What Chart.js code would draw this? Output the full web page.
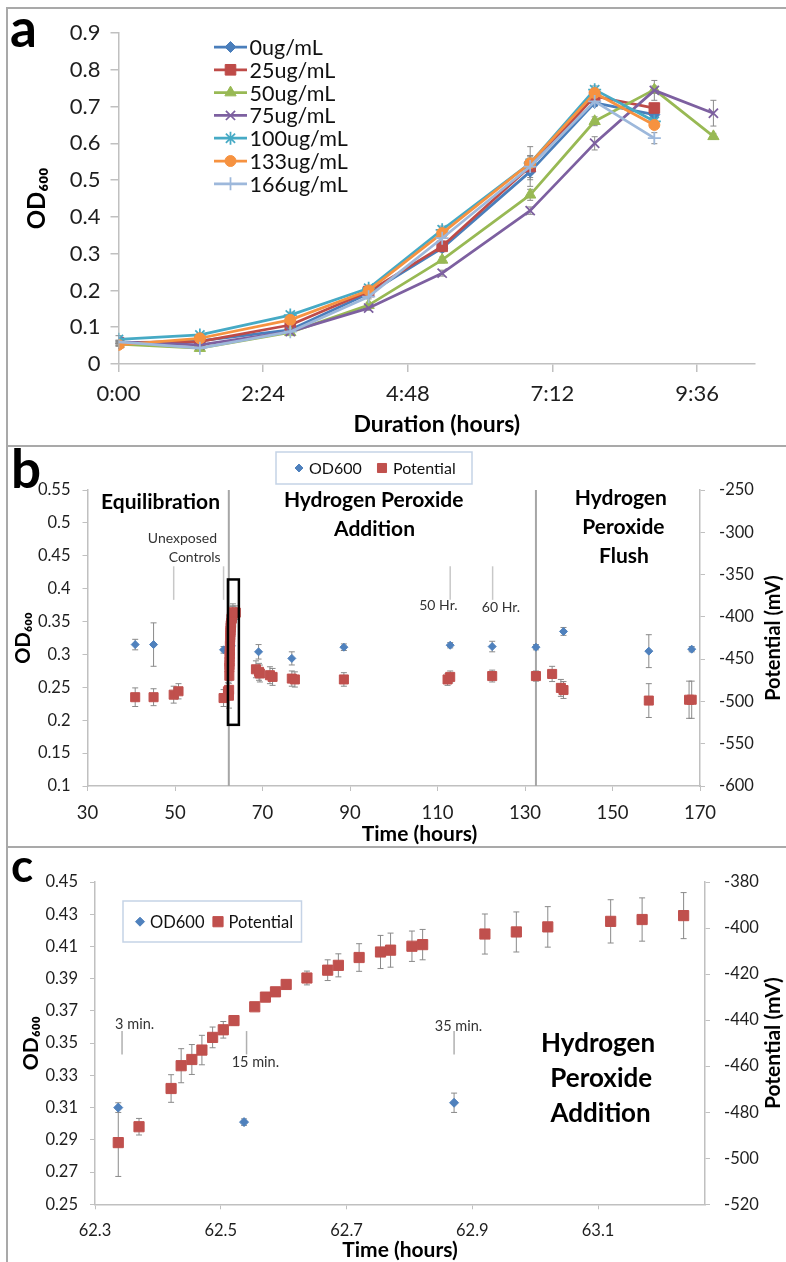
<!DOCTYPE html>
<html>
<head>
<meta charset="utf-8">
<script src="https://cdn.jsdelivr.net/npm/chart.js@4.4.1/dist/chart.umd.min.js"></script>
<style>
  html, body { margin: 0; padding: 0; background: #fff; overflow: hidden; }
  body { width: 786px; height: 1262px; position: relative; }
  .panel { position: absolute; left: 6px; width: 820px; border-top: 2px solid #a9a9a9; border-left: 2px solid #a9a9a9; overflow: hidden; }
  #panel-a { top: 7px; height: 436px; }
  #panel-b { top: 445px; height: 399px; }
  #panel-c { top: 846px; height: 420px; }
  canvas { display: block; }
</style>
</head>
<body>
<div class="panel" id="panel-a"><canvas id="chart-a" width="800" height="436"></canvas></div>
<div class="panel" id="panel-b"><canvas id="chart-b" width="800" height="399"></canvas></div>
<div class="panel" id="panel-c"><canvas id="chart-c" width="800" height="414"></canvas></div>
<script>
// ---------- panel a: growth curves ----------
const durationHours = [0, 1.35, 2.85, 4.15, 5.37, 6.83, 7.9, 8.89, 9.87];
const durationTicks = [0, 2.4, 4.8, 7.2, 9.6];
const concLabels = ['0ug/mL', '25ug/mL', '50ug/mL', '75ug/mL', '100ug/mL', '133ug/mL', '166ug/mL'];
const od0 = [0.056, 0.063, 0.093, 0.192, 0.315, 0.523, 0.71, 0.678];
const od25 = [0.058, 0.061, 0.106, 0.197, 0.32, 0.537, 0.728, 0.696];
const od50 = [0.054, 0.043, 0.086, 0.16, 0.283, 0.46, 0.66, 0.746, 0.619];
const od75 = [0.06, 0.052, 0.088, 0.152, 0.247, 0.417, 0.6, 0.744, 0.682];
const od100 = [0.067, 0.079, 0.133, 0.206, 0.365, 0.546, 0.746, 0.66];
const od133 = [0.052, 0.07, 0.12, 0.2, 0.356, 0.546, 0.737, 0.65];
const od166 = [0.06, 0.043, 0.088, 0.183, 0.342, 0.537, 0.714, 0.614];
const err0 = [0.005, 0.004, 0.006, 0.008, 0.01, 0.04, 0.01, 0.012];
const err25 = [0.004, 0.004, 0.005, 0.006, 0.008, 0.02, 0.01, 0.01];
const err50 = [0.004, 0.004, 0.005, 0.006, 0.008, 0.015, 0.012, 0.01, 0.008];
const err75 = [0.005, 0.004, 0.005, 0.006, 0.008, 0.01, 0.018, 0.027, 0.035];
const err100 = [0.01, 0.004, 0.008, 0.008, 0.01, 0.045, 0.01, 0.01];
const err133 = [0.004, 0.004, 0.005, 0.006, 0.008, 0.02, 0.01, 0.01];
const err166 = [0.004, 0.004, 0.005, 0.006, 0.008, 0.03, 0.01, 0.015];

// ---------- panel b: whole run ----------
const odTimeEquil = [40.9, 45.1, 61.1];
const odValEquil = [0.315, 0.315, 0.307];
const odErrEquil = [0.008, 0.033, 0.005];
const odTimeLate = [69.1, 76.7, 88.6, 112.9, 122.5, 132.5, 138.8, 158.3, 168.1];
const odValLate = [0.304, 0.294, 0.311, 0.314, 0.312, 0.311, 0.335, 0.305, 0.308];
const odErrLate = [0.011, 0.01, 0.005, 0.004, 0.008, 0.004, 0.006, 0.025, 0.004];
const potTimeEquil = [40.9, 45.1, 49.7, 50.8, 61.1, 62.1];
const potValEquil = [-495, -495, -492, -488, -496, -488];
const potErrEquil = [11, 10, 10, 9, 10, 10];
const potTimeLate = [63.9, 68.5, 69.2, 69.4, 71.7, 72.3, 76.7, 77.4, 88.6, 112.3, 112.9, 122.5, 132.5, 136.2, 138.2, 138.8, 158.3, 167.5, 168.1];
const potValLate = [-395, -462, -465, -467, -469, -471, -473, -474, -474, -474, -471, -470, -470, -467.5, -484, -486.5, -499, -498, -498];
const potErrLate = [8, 10, 10, 10, 10, 10, 9, 9, 8, 7, 7, 7, 6, 9, 10, 10, 20, 22, 22];
const phaseDividers = [62.3, 132.5];
const eventTimesB = [49.7, 61.1, 112.9, 122.6];

// ---------- panel c: first hour of peroxide addition ----------
const odTimeC = [62.337, 62.537, 62.871];
const odValC = [0.31, 0.301, 0.313];
const odErrC = [0.003, 0.002, 0.006];
const potTimeC = [62.337, 62.37, 62.421, 62.437, 62.454, 62.47, 62.487, 62.504, 62.521, 62.554, 62.571, 62.587, 62.604,
  62.637, 62.67, 62.687, 62.72, 62.754, 62.77, 62.804, 62.821, 62.92, 62.97, 63.02, 63.12, 63.17, 63.236];
const potValC = [-493.2, -486.3, -469.7, -459.8, -457.1, -453, -447.5, -444.2, -440.2, -434.2, -430, -427.7, -424.5,
  -421.7, -418.3, -416.2, -412.8, -410.4, -409.6, -407.9, -407.2, -402.6, -401.7, -399.5, -397.1, -396.3, -394.6];
const potErrC = [14.7, 3.6, 6, 7.4, 6.5, 6.4, 4.5, 3.6, 2, 1.5, 1.5, 1.5, 1.5, 3, 4.5, 5, 6, 7.2, 7.4, 6.6, 6.6,
  8.7, 8.7, 8.8, 9.4, 9.4, 10];
const timeTicksC = [62.3, 62.5, 62.7, 62.9, 63.1];
const eventTimesC = [62.343, 62.541, 62.871];

Chart.defaults.font.family = 'Lato, "DejaVu Sans", sans-serif';
const axisGray = '#c0c0c0';
const tickColor = '#1e1e1e';
const blue = '#4F81BD';
const red = '#C0504D';

const pts = (xs, ys) => ys.map((y, i) => ({ x: xs[i], y }));
const fmtClock = v => {
  const h = Math.floor(v + 1e-9);
  return h + ':' + String(Math.round((v - h) * 60)).padStart(2, '0');
};
const fmtDec = v => String(Math.round(v * 100) / 100);

// overlays: error bars, guide lines, text, legends, panel letters
const overlay = cfg => ({
  id: 'overlay',
  beforeDatasetsDraw(chart) {
    const ctx = chart.ctx, xs = chart.scales.x, ys = chart.scales.y, area = chart.chartArea;
    ctx.save();
    (cfg.lines || []).forEach(l => {
      const px = xs.getPixelForValue(l.x);
      ctx.strokeStyle = l.color;
      ctx.lineWidth = l.width;
      ctx.beginPath();
      ctx.moveTo(px, l.y0 == null ? area.top : ys.getPixelForValue(l.y0));
      ctx.lineTo(px, l.y1 == null ? area.bottom : ys.getPixelForValue(l.y1));
      ctx.stroke();
    });
    chart.data.datasets.forEach(ds => {
      if (!ds.errorBars) return;
      const yScale = chart.scales[ds.yAxisID || 'y'];
      ctx.strokeStyle = '#8a8a8a';
      ctx.lineWidth = 1;
      ds.data.forEach((p, i) => {
        const e = ds.errorBars[i];
        if (!e) return;
        const px = xs.getPixelForValue(p.x);
        const top = yScale.getPixelForValue(p.y + e), bot = yScale.getPixelForValue(p.y - e);
        ctx.beginPath();
        ctx.moveTo(px, top); ctx.lineTo(px, bot);
        ctx.moveTo(px - 3, top); ctx.lineTo(px + 3, top);
        ctx.moveTo(px - 3, bot); ctx.lineTo(px + 3, bot);
        ctx.stroke();
      });
    });
    ctx.restore();
  },
  afterDraw(chart) {
    const ctx = chart.ctx, xs = chart.scales.x, ys = chart.scales.y, area = chart.chartArea;
    ctx.save();
    (cfg.boxes || []).forEach(b => {
      const x0 = xs.getPixelForValue(b.x0), x1 = xs.getPixelForValue(b.x1);
      const y0 = ys.getPixelForValue(b.y0), y1 = ys.getPixelForValue(b.y1);
      ctx.strokeStyle = '#000';
      ctx.lineWidth = 2.5;
      ctx.strokeRect(x0, y1, x1 - x0, y0 - y1);
    });
    ctx.textBaseline = 'middle';
    ctx.textAlign = 'center';
    (cfg.texts || []).forEach(t => {
      ctx.font = t.font;
      ctx.fillStyle = t.color || '#000';
      const px = t.px != null ? t.px : xs.getPixelForValue(t.x);
      const py = t.py != null ? t.py : (t.y != null ? ys.getPixelForValue(t.y) : (area.top + area.bottom) / 2);
      if (t.rot) {
        ctx.save();
        ctx.translate(px, py);
        ctx.rotate(t.rot);
        ctx.fillText(t.text, 0, 0);
        ctx.restore();
      } else {
        ctx.fillText(t.text, px, py);
      }
    });
    const lg = cfg.legend;
    if (lg) {
      if (lg.box) {
        ctx.fillStyle = '#fff';
        ctx.strokeStyle = '#c5d3e6';
        ctx.lineWidth = 1.5;
        ctx.fillRect(...lg.box);
        ctx.strokeRect(...lg.box);
      }
      ctx.font = lg.font;
      ctx.textAlign = 'left';
      lg.items.forEach(it => {
        const ds = chart.data.datasets[it.index];
        if (it.line) {
          ctx.strokeStyle = ds.borderColor;
          ctx.lineWidth = ds.borderWidth;
          ctx.beginPath();
          ctx.moveTo(it.line[0], it.y); ctx.lineTo(it.line[1], it.y);
          ctx.stroke();
        }
        ctx.fillStyle = ds.pointBackgroundColor;
        ctx.strokeStyle = ds.pointBorderColor;
        ctx.lineWidth = ds.pointBorderWidth;
        Chart.helpers.drawPoint(ctx, { pointStyle: ds.pointStyle, radius: ds.pointRadius, borderWidth: ds.pointBorderWidth, rotation: 0 }, it.mx, it.y);
        ctx.fillStyle = '#111';
        ctx.fillText(ds.label, it.tx, it.y + 1);
      });
    }
    if (cfg.letter) {
      ctx.font = cfg.letter.font;
      ctx.fillStyle = '#000';
      ctx.textAlign = 'left';
      ctx.textBaseline = 'alphabetic';
      ctx.fillText(cfg.letter.text, cfg.letter.px, cfg.letter.py);
    }
    ctx.restore();
  }
});

// ---------- chart a ----------
const growth = (i, ys, errs, color, style, radius, bw) => ({
  label: concLabels[i],
  data: pts(durationHours, ys),
  errorBars: errs,
  showLine: true,
  borderColor: color,
  backgroundColor: color,
  borderWidth: 2.75,
  borderJoinStyle: 'round',
  pointStyle: style,
  pointRadius: radius,
  pointBackgroundColor: color,
  pointBorderColor: color,
  pointBorderWidth: bw,
  order: 7 - i
});
const growthSets = [
  growth(0, od0, err0, '#4A7EBB', 'rectRot', 5.5, 1),
  growth(1, od25, err25, '#BE4B48', 'rect', 7.5, 1),
  growth(2, od50, err50, '#98B954', 'triangle', 6.5, 1),
  growth(3, od75, err75, '#7D60A0', 'crossRot', 6.5, 1.75),
  growth(4, od100, err100, '#46AAC5', 'star', 6.5, 1.75),
  growth(5, od133, err133, '#F69240', 'circle', 5.5, 1),
  growth(6, od166, err166, '#9DB8DB', 'cross', 6.5, 1.75)
];

new Chart(document.getElementById('chart-a'), {
  type: 'scatter',
  data: { datasets: growthSets },
  options: {
    responsive: false,
    animation: false,
    events: [],
    layout: { padding: { top: 24, right: 53, left: 0, bottom: 0 } },
    plugins: { legend: { display: false }, tooltip: { enabled: false } },
    scales: {
      x: {
        type: 'linear', min: 0, max: 10.56,
        afterBuildTicks: axis => { axis.ticks = durationTicks.map(v => ({ value: v })); },
        ticks: { callback: fmtClock, color: tickColor, font: { size: 22 }, padding: 9, autoSkip: false, maxRotation: 0 },
        grid: { drawOnChartArea: false, color: axisGray, tickLength: 8, lineWidth: 1.5 },
        border: { color: axisGray, width: 1.5 },
        title: { display: true, text: 'Duration (hours)', color: '#000', font: { size: 23, weight: 'bold' }, padding: { top: 0, bottom: 7 } },
        afterFit: s => { s.height = 81; }
      },
      y: {
        min: 0, max: 0.9,
        ticks: { stepSize: 0.1, color: tickColor, font: { size: 22 }, padding: 10 },
        grid: { drawOnChartArea: false, color: axisGray, tickLength: 8, lineWidth: 1.5 },
        border: { color: axisGray, width: 1.5 },
        title: { display: true, text: 'OD₆₀₀', color: '#000', font: { size: 24, weight: 'bold' }, padding: { top: 15, bottom: 0 } },
        afterFit: s => { s.width = 110.5; }
      }
    }
  },
  plugins: [overlay({
    legend: {
      font: '21.5px Lato',
      items: concLabels.map((_, i) => ({ index: i, line: [206, 239], mx: 222.5, tx: 241.5, y: 38 + 22.8 * i }))
    },
    letter: { text: 'a', font: 'bold 53px Lato', px: 2, py: 38 }
  })]
});

// ---------- charts b and c share the twin y axes ----------
const sideAxes = (leftMin, leftMax, leftStep, rightMin, rightMax, rightStep, leftW, rightW, tickSize, titlePadL, titleSize) => ({
  y: {
    position: 'left', min: leftMin, max: leftMax,
    ticks: { stepSize: leftStep, callback: fmtDec, color: tickColor, font: { size: tickSize }, padding: 12 },
    grid: { drawOnChartArea: false, color: axisGray, tickLength: 5 },
    border: { color: axisGray, width: 1.5 },
    title: { display: true, text: 'OD₆₀₀', color: '#000', font: { size: titleSize, weight: 'bold' }, padding: { top: titlePadL, bottom: 0 } },
    afterFit: s => { s.width = leftW; }
  },
  y2: {
    position: 'right', min: rightMin, max: rightMax,
    ticks: { stepSize: rightStep, color: tickColor, font: { size: tickSize }, padding: 14 },
    grid: { drawOnChartArea: false, color: axisGray, tickLength: 5 },
    border: { color: axisGray, width: 1.5 },
    afterFit: s => { s.width = rightW; }
  }
});

const bAxes = sideAxes(0.1, 0.55, 0.05, -600, -250, 50, 79.5, 108, 16.5, 3.5, 20);
new Chart(document.getElementById('chart-b'), {
  type: 'scatter',
  data: {
    datasets: [
      {
        label: 'OD600',
        data: pts([...odTimeEquil, ...odTimeC, ...odTimeLate], [...odValEquil, ...odValC, ...odValLate]),
        errorBars: [...odErrEquil, ...odErrC, ...odErrLate],
        yAxisID: 'y',
        pointStyle: 'rectRot', pointRadius: 4, pointBackgroundColor: blue, pointBorderColor: blue, pointBorderWidth: 1,
        order: 2
      },
      {
        label: 'Potential',
        data: pts([...potTimeEquil, ...potTimeC, ...potTimeLate], [...potValEquil, ...potValC, ...potValLate]),
        errorBars: [...potErrEquil, ...potErrC, ...potErrLate],
        yAxisID: 'y2',
        pointStyle: 'rect', pointRadius: 6.4, pointBackgroundColor: red, pointBorderColor: red, pointBorderWidth: 1,
        order: 1
      }
    ]
  },
  options: {
    responsive: false,
    animation: false,
    events: [],
    layout: { padding: { top: 43, right: 0, left: 0, bottom: 0 } },
    plugins: { legend: { display: false }, tooltip: { enabled: false } },
    scales: {
      x: {
        type: 'linear', min: 30, max: 170,
        ticks: { stepSize: 20, color: tickColor, font: { size: 18.5 }, padding: 11, maxRotation: 0 },
        grid: { drawOnChartArea: false, color: axisGray, tickLength: 5 },
        border: { color: axisGray, width: 1.5 },
        afterFit: s => { s.height = 60; }
      },
      ...bAxes
    }
  },
  plugins: [overlay({
    lines: [
      ...phaseDividers.map(x => ({ x, color: '#a6a6a6', width: 2 })),
      ...eventTimesB.map(x => ({ x, y0: 0.383, y1: 0.434, color: '#c8c8c8', width: 1.5 }))
    ],
    boxes: [{ x0: 62.1, x1: 64.6, y0: 0.193, y1: 0.414 }],
    texts: [
      { text: 'Equilibration', x: 46.7, y: 0.532, font: 'bold 21px Lato' },
      { text: 'Hydrogen Peroxide', x: 95.4, y: 0.534, font: 'bold 21px Lato' },
      { text: 'Addition', x: 95.6, y: 0.491, font: 'bold 21px Lato' },
      { text: 'Hydrogen', x: 151.9, y: 0.537, font: 'bold 21px Lato' },
      { text: 'Peroxide', x: 152.5, y: 0.494, font: 'bold 21px Lato' },
      { text: 'Flush', x: 152.6, y: 0.450, font: 'bold 21px Lato' },
      { text: 'Unexposed', x: 51.7, y: 0.4766, font: '14px Lato', color: '#333' },
      { text: 'Controls', x: 54.5, y: 0.4477, font: '14px Lato', color: '#333' },
      { text: '50 Hr.', x: 110.2, y: 0.374, font: '14px Lato', color: '#333' },
      { text: '60 Hr.', x: 124.5, y: 0.371, font: '14px Lato', color: '#333' },
      { text: 'Time (hours)', px: 411.5, py: 387, font: 'bold 21px Lato' },
      { text: 'Potential (mV)', px: 766, rot: -Math.PI / 2, font: 'bold 20px Lato' }
    ],
    legend: {
      box: [268, 5, 196, 32],
      font: '16px Lato',
      items: [{ index: 0, mx: 291, tx: 301, y: 21 }, { index: 1, mx: 374, tx: 385, y: 21 }]
    },
    letter: { text: 'b', font: 'bold 53px Lato', px: 3, py: 41 }
  })]
});

const cAxes = sideAxes(0.25, 0.45, 0.02, -520, -380, 20, 87, 103, 16.5, 10.5, 21);
new Chart(document.getElementById('chart-c'), {
  type: 'scatter',
  data: {
    datasets: [
      {
        label: 'OD600',
        data: pts(odTimeC, odValC),
        errorBars: odErrC,
        yAxisID: 'y',
        pointStyle: 'rectRot', pointRadius: 4.5, pointBackgroundColor: blue, pointBorderColor: blue, pointBorderWidth: 1,
        order: 2
      },
      {
        label: 'Potential',
        data: pts(potTimeC, potValC),
        errorBars: potErrC,
        yAxisID: 'y2',
        pointStyle: 'rect', pointRadius: 7.2, pointBackgroundColor: red, pointBorderColor: red, pointBorderWidth: 1,
        order: 1
      }
    ]
  },
  options: {
    responsive: false,
    animation: false,
    events: [],
    layout: { padding: { top: 34, right: 0, left: 0, bottom: 0 } },
    plugins: { legend: { display: false }, tooltip: { enabled: false } },
    scales: {
      x: {
        type: 'linear', min: 62.3, max: 63.27,
        afterBuildTicks: axis => { axis.ticks = timeTicksC.map(v => ({ value: v })); },
        ticks: { callback: v => v.toFixed(1), color: tickColor, font: { size: 16.5 }, padding: 11, autoSkip: false, maxRotation: 0 },
        grid: { drawOnChartArea: false, color: axisGray, tickLength: 5 },
        border: { color: axisGray, width: 1.5 },
        afterFit: s => { s.height = 57.7; }
      },
      ...cAxes
    }
  },
  plugins: [overlay({
    lines: eventTimesC.map(x => ({ x, y0: 0.343, y1: 0.3575, color: '#b0b0b0', width: 1.5 })),
    texts: [
      { text: '3 min.', x: 62.363, y: 0.3618, font: '14.5px Lato', color: '#333' },
      { text: '15 min.', x: 62.555, y: 0.338, font: '14.5px Lato', color: '#333' },
      { text: '35 min.', x: 62.878, y: 0.3605, font: '14.5px Lato', color: '#333' },
      { text: 'Hydrogen', x: 63.10, y: 0.3498, font: 'bold 26px Lato' },
      { text: 'Peroxide', x: 63.105, y: 0.328, font: 'bold 26px Lato' },
      { text: 'Addition', x: 63.104, y: 0.3064, font: 'bold 26px Lato' },
      { text: 'Time (hours)', px: 392, py: 402, font: 'bold 21px Lato' },
      { text: 'Potential (mV)', px: 765, rot: -Math.PI / 2, font: 'bold 21px Lato' }
    ],
    legend: {
      box: [115, 53, 178.5, 41],
      font: '16.5px Lato',
      items: [{ index: 0, mx: 132, tx: 142, y: 73.7 }, { index: 1, mx: 210, tx: 220.5, y: 73.7 }]
    },
    letter: { text: 'c', font: 'bold 46px Lato', px: 3, py: 34 }
  })]
});
</script>
</body>
</html>
